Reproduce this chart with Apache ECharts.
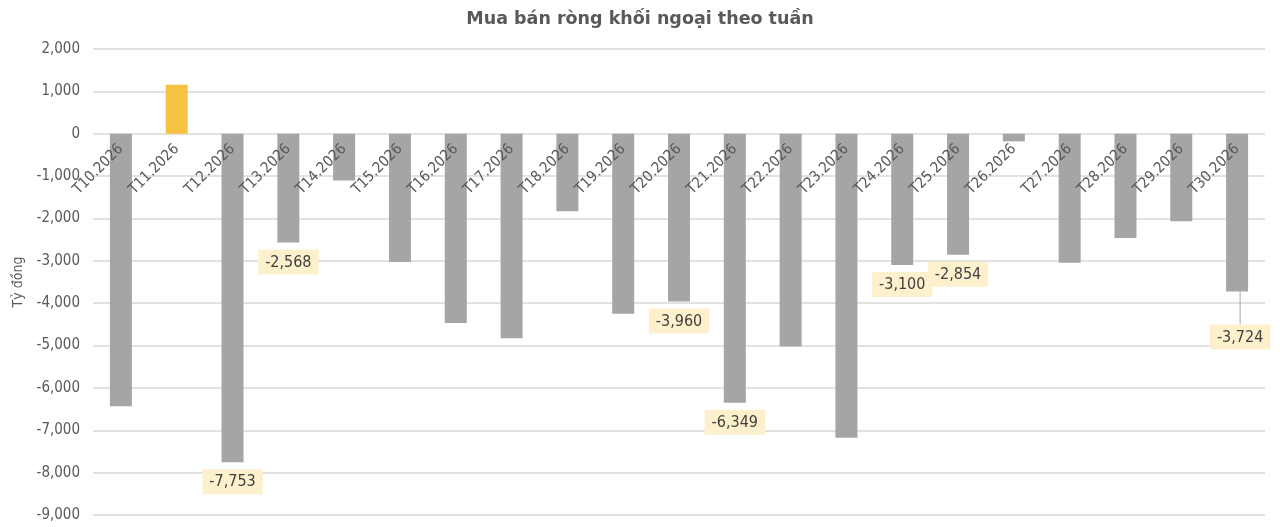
<!DOCTYPE html>
<html>
<head>
<meta charset="utf-8">
<script src="https://cdn.jsdelivr.net/npm/echarts@6/dist/echarts.min.js"></script>
<style>
  html, body { margin: 0; padding: 0; background: #fff; }
  #chart { width: 1280px; height: 527px; }
</style>
</head>
<body>
<div id="chart"></div>
<script>
const weeks = ['T10.2026', 'T11.2026', 'T12.2026', 'T13.2026', 'T14.2026', 'T15.2026', 'T16.2026',
  'T17.2026', 'T18.2026', 'T19.2026', 'T20.2026', 'T21.2026', 'T22.2026', 'T23.2026',
  'T24.2026', 'T25.2026', 'T26.2026', 'T27.2026', 'T28.2026', 'T29.2026', 'T30.2026'];
const netValues = [-6430, 1156, -7753, -2568, -1106, -3030, -4465,
  -4830, -1830, -4250, -3960, -6349, -5024, -7177,
  -3100, -2854, -180, -3043, -2460, -2068, -3724];
// weeks that carry a value label in the original
const labeledWeeks = ['T12.2026', 'T13.2026', 'T20.2026', 'T21.2026', 'T24.2026', 'T25.2026', 'T30.2026'];
const leaderWeek = 'T30.2026';
const yMin = -9000, yMax = 2000;

const font = 'Tahoma, "DejaVu Sans Condensed", "DejaVu Sans", sans-serif';
const fmt = v => v.toLocaleString('en-US');

const gridTop = 49, gridBottom = 12, height = 527;
const plotH = height - gridTop - gridBottom;
// put the category labels on the zero line (onZero does not move them here)
const zeroOffset = -plotH * (0 - yMin) / (yMax - yMin);

const chart = echarts.init(document.getElementById('chart'));

const barData = netValues.map((v, i) => {
  const wk = weeks[i];
  return {
    value: v,
    itemStyle: { color: v >= 0 ? '#f5c242' : '#a5a5a5' },
    label: { show: labeledWeeks.includes(wk) },
    labelLine: { show: wk === leaderWeek, lineStyle: { color: '#a5a5a5', width: 1 } }
  };
});

chart.setOption({
  animation: false,
  title: {
    text: 'Mua bán ròng khối ngoại theo tuần',
    left: 'center',
    top: 5,
    textStyle: { fontFamily: '"DejaVu Sans", sans-serif', fontSize: 17.5, fontWeight: 'bold', color: '#595959' }
  },
  grid: { left: 93, right: 15, top: gridTop, bottom: gridBottom, containLabel: false, outerBoundsMode: 'none' },
  xAxis: {
    type: 'category',
    data: weeks,
    z: 5,
    offset: zeroOffset,
    axisLine: { onZero: false, show: false },
    axisTick: { show: false },
    axisLabel: {
      rotate: 45,
      margin: 13,
      interval: 0,
      fontFamily: font,
      fontSize: 15,
      color: '#595959'
    }
  },
  yAxis: {
    type: 'value',
    min: yMin,
    max: yMax,
    interval: 1000,
    name: 'Tỷ đồng',
    nameLocation: 'middle',
    nameGap: 68,
    nameTextStyle: { fontFamily: font, fontSize: 14, color: '#595959' },
    axisLine: { show: false },
    axisTick: { show: false },
    splitLine: { lineStyle: { color: '#d9d9d9', width: 1.5 } },
    axisLabel: {
      margin: 13,
      fontFamily: font,
      fontSize: 15,
      color: '#595959',
      formatter: fmt
    }
  },
  series: [{
    type: 'bar',
    data: barData,
    barWidth: 22,
    label: {
      position: 'bottom',
      distance: 7,
      formatter: p => fmt(p.value),
      fontFamily: font,
      fontSize: 16,
      color: '#404040',
      backgroundColor: '#fdf1cd',
      padding: [5, 7, 4, 7]
    },
    labelLayout: p => (weeks[p.dataIndex] === leaderWeek ? { dy: 26, dx: 3 } : {})
  }]
});
</script>
</body>
</html>
